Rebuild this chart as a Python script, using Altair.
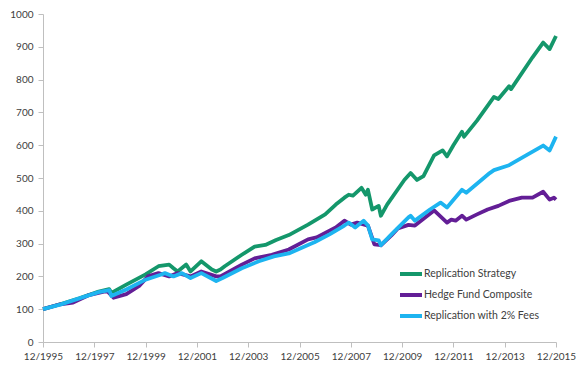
import altair as alt
import pandas as pd

series_names = ["Replication Strategy", "Hedge Fund Composite", "Replication with 2% Fees"]
series_colors = ["#14976B", "#631E96", "#1DB4F0"]

rep_dates = ["1995-12", "1996-08", "1997-05", "1998-02", "1998-07", "1998-08", "1999-03", "1999-12",
             "2000-06", "2000-11", "2001-01", "2001-03", "2001-07", "2001-09", "2002-02", "2002-07",
             "2002-09", "2002-11", "2003-01", "2003-09", "2004-03", "2004-08", "2005-01", "2005-07",
             "2006-04", "2006-12", "2007-05", "2007-09", "2007-11", "2008-01", "2008-05", "2008-07",
             "2008-08", "2008-10", "2009-01", "2009-02", "2009-05", "2010-01", "2010-04", "2010-07",
             "2010-10", "2011-03", "2011-07", "2011-09", "2011-12", "2012-04", "2012-05", "2012-11",
             "2013-07", "2013-09", "2014-02", "2014-03", "2015-01", "2015-06", "2015-09", "2015-12"]
rep_values = [100, 115, 133, 154, 161, 150, 175, 206,
              231, 236, 225, 215, 236, 215, 246, 221,
              215, 221, 231, 266, 291, 296, 311, 326,
              358, 389, 419, 440, 449, 446, 470, 449,
              464, 404, 415, 385, 419, 494, 515, 494,
              506, 569, 584, 566, 600, 641, 626, 675,
              747, 741, 780, 771, 868, 913, 893, 933]

hf_dates = ["1995-12", "1996-08", "1997-02", "1997-09", "1998-06", "1998-09", "1999-03", "1999-09",
            "2000-01", "2000-06", "2000-11", "2001-03", "2001-09", "2002-02", "2002-09", "2002-11",
            "2003-09", "2004-03", "2004-11", "2005-07", "2006-04", "2006-08", "2007-05", "2007-09",
            "2007-12", "2008-03", "2008-08", "2008-11", "2009-02", "2009-07", "2009-10", "2010-03",
            "2010-06", "2011-03", "2011-09", "2011-11", "2012-01", "2012-04", "2012-06", "2012-11",
            "2013-04", "2013-09", "2014-02", "2014-08", "2015-01", "2015-06", "2015-09", "2015-11",
            "2015-12"]
hf_values = [100, 115, 120, 142, 156, 135, 146, 171,
             200, 210, 200, 210, 200, 215, 200, 200,
             236, 255, 266, 282, 313, 319, 349, 370,
             358, 364, 355, 298, 295, 325, 346, 357,
             355, 401, 364, 373, 370, 385, 373, 389,
             404, 415, 430, 440, 440, 458, 434, 440,
             434]

fee_dates = ["1995-12", "1996-08", "1997-05", "1998-02", "1998-07", "1998-08", "1999-03", "1999-12",
             "2000-07", "2000-09", "2001-01", "2001-05", "2001-09", "2002-02", "2002-09", "2002-12",
             "2003-09", "2004-05", "2004-12", "2005-07", "2006-04", "2006-07", "2007-02", "2007-09",
             "2007-11", "2008-02", "2008-06", "2008-08", "2008-10", "2009-01", "2009-02", "2009-07",
             "2010-03", "2010-04", "2010-06", "2011-01", "2011-06", "2011-09", "2012-04", "2012-06",
             "2013-05", "2013-07", "2014-02", "2014-10", "2015-06", "2015-09", "2015-12"]
fee_values = [100, 114, 133, 152, 158, 140, 160, 190,
              205, 210, 200, 210, 195, 210, 186, 195,
              225, 246, 261, 270, 296, 304, 328, 355,
              364, 349, 370, 355, 313, 310, 295, 328,
              380, 385, 370, 404, 425, 410, 464, 455,
              515, 524, 539, 569, 599, 584, 626]

tick_years = [1995, 1997, 1999, 2001, 2003, 2005, 2007, 2009, 2011, 2013, 2015]
y_ticks = [0, 100, 200, 300, 400, 500, 600, 700, 800, 900, 1000]

rows = []
for name, dates, vals in [(series_names[0], rep_dates, rep_values),
                          (series_names[1], hf_dates, hf_values),
                          (series_names[2], fee_dates, fee_values)]:
    for d, v in zip(dates, vals):
        rows.append({"series": name, "date": d + "-01", "value": v})
df = pd.DataFrame(rows)

font = "Lato"
text_color = "#404040"
axis_color = "#BFBFBF"

color = alt.Color(
    "series:N",
    scale=alt.Scale(domain=series_names, range=series_colors),
    legend=alt.Legend(
        title=None, orient="none", legendX=355, legendY=247,
        symbolType="stroke", symbolSize=484, symbolStrokeWidth=4,
        labelFont=font, labelFontSize=10.5, labelColor=text_color,
        labelOffset=0, padding=0, rowPadding=-3,
    ),
)

x = alt.X(
    "date:T",
    scale=alt.Scale(domain=[alt.DateTime(year=1995, month=12, date=1),
                            alt.DateTime(year=2015, month=12, date=1)], nice=False),
    axis=alt.Axis(values=[alt.DateTime(year=yy, month=12, date=1) for yy in tick_years],
                  format="%m/%Y", title=None, grid=False, labelPadding=4,
                  labelOverlap=False, labelBound=False, labelFlush=False),
)
y = alt.Y(
    "value:Q",
    scale=alt.Scale(domain=[0, 1000], nice=False),
    axis=alt.Axis(values=y_ticks, format="d", title=None, grid=False, labelPadding=5),
)

base = alt.Chart(df).mark_line(strokeWidth=3.8, strokeJoin="round").encode(x=x, y=y, color=color)
layers = [base.transform_filter(alt.datum.series == n) for n in series_names]

chart = alt.layer(*layers).properties(
    width=513, height=328,
    padding={"left": 35, "top": 6, "right": 20, "bottom": 18},
    autosize=alt.AutoSizeParams(type="none"),
).configure_axis(
    domainColor=axis_color, tickColor=axis_color, tickSize=5,
    labelFont=font, labelFontSize=10, labelColor=text_color,
).configure_view(stroke="transparent")

chart.save("out.html", embed_options={"renderer": "svg", "actions": False})
